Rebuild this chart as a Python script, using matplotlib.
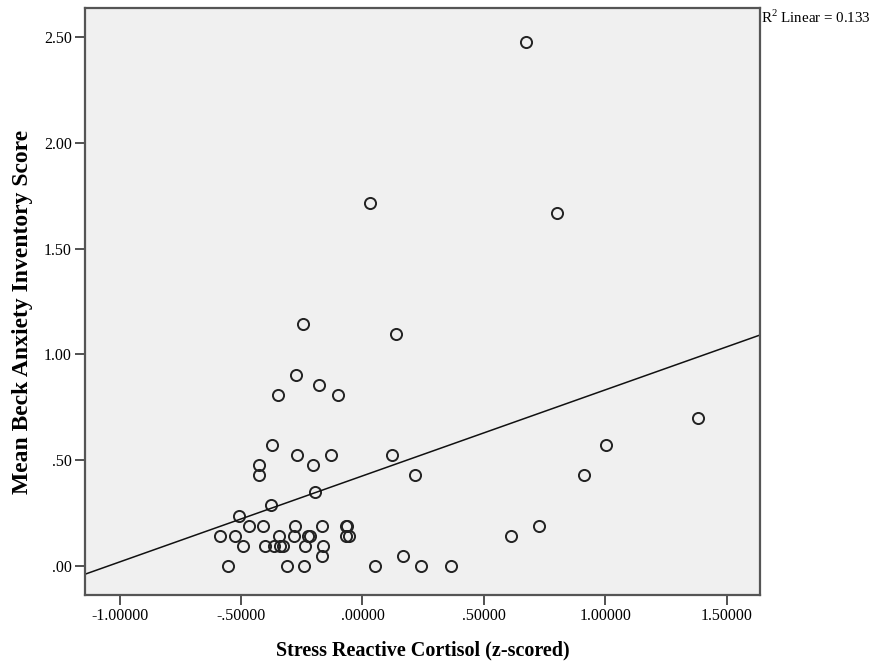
import numpy as np
import matplotlib
matplotlib.use("Agg")
import matplotlib.pyplot as plt

# cortisol (z-scored) vs mean BAI score
cortisol = [0.672, 0.029, 0.800, -0.243, 0.136,
            -0.273, -0.177, -0.348, -0.100, 1.381,
            -0.372, 1.002, -0.268, -0.129, 0.122,
            -0.427, -0.202, -0.427, 0.218, 0.912,
            -0.197, -0.376, -0.510,
            -0.466, -0.410, -0.279, -0.166, -0.068, -0.064, 0.727,
            -0.585, -0.526, -0.345, -0.283, -0.224, -0.218, -0.066, -0.055, 0.611,
            -0.493, -0.400, -0.366, -0.338, -0.327, -0.238, -0.163,
            -0.165, 0.165,
            -0.552, -0.310, -0.240, 0.052, 0.239, 0.363]
bai = [2.476, 1.714, 1.667, 1.143, 1.095,
       0.905, 0.857, 0.810, 0.810, 0.700,
       0.571, 0.571, 0.524, 0.524, 0.524,
       0.476, 0.476, 0.429, 0.429, 0.429,
       0.350, 0.286, 0.238,
       0.190, 0.190, 0.190, 0.190, 0.190, 0.190, 0.190,
       0.143, 0.143, 0.143, 0.143, 0.143, 0.143, 0.143, 0.143, 0.143,
       0.095, 0.095, 0.095, 0.095, 0.095, 0.095, 0.095,
       0.048, 0.048,
       0.000, 0.000, 0.000, 0.000, 0.000, 0.000]

x_ticks = [-1.0, -0.5, 0.0, 0.5, 1.0, 1.5]
x_tick_labels = ["-1.00000", "-.50000", ".00000", ".50000", "1.00000", "1.50000"]
y_ticks = [0.0, 0.5, 1.0, 1.5, 2.0, 2.5]
y_tick_labels = [".00", ".50", "1.00", "1.50", "2.00", "2.50"]
r2_text = "R$^2$ Linear = 0.133"

plt.rcParams['font.family'] = ['Liberation Serif', 'DejaVu Serif']
plt.rcParams['mathtext.fontset'] = 'custom'
plt.rcParams['mathtext.rm'] = 'Liberation Serif'

fig = plt.figure(figsize=(8.77, 6.64), dpi=100)
ax = fig.add_axes([85/877, 69/664, 675/877, 587/664])
ax.set_facecolor("#f0f0f0")

xlo, xhi = -1.142, 1.636
ax.set_xlim(xlo, xhi)
ax.set_ylim(-0.137, 2.637)

ax.plot(cortisol, bai, linestyle="none", marker="o", markersize=8,
        markerfacecolor="none", markeredgecolor="#222222", markeredgewidth=1.4)

# linear fit line
slope, icpt = np.polyfit(cortisol, bai, 1)
xs = np.array([xlo, xhi])
ax.plot(xs, icpt + slope * xs, color="#111111", lw=1.1)

ax.set_xticks(x_ticks)
ax.set_xticklabels(x_tick_labels)
ax.set_yticks(y_ticks)
ax.set_yticklabels(y_tick_labels)
ax.tick_params(direction="out", length=7.5, width=1.2, color="#333333",
               labelsize=11.5, pad=2, top=False, right=False)

for s in ax.spines.values():
    s.set_color("#555555")
    s.set_linewidth(1.6)

ax.set_xlabel("Stress Reactive Cortisol (z-scored)", fontsize=14.5,
              fontweight="bold", labelpad=12)
ax.set_ylabel("Mean Beck Anxiety Inventory Score", fontsize=17,
              fontweight="bold")
ax.yaxis.set_label_coords(-0.077, 0.483)

fig.text(761/877, 1 - 17/664, r2_text, fontsize=10.8, va="center", ha="left")

fig.savefig("out.png", dpi=100)
